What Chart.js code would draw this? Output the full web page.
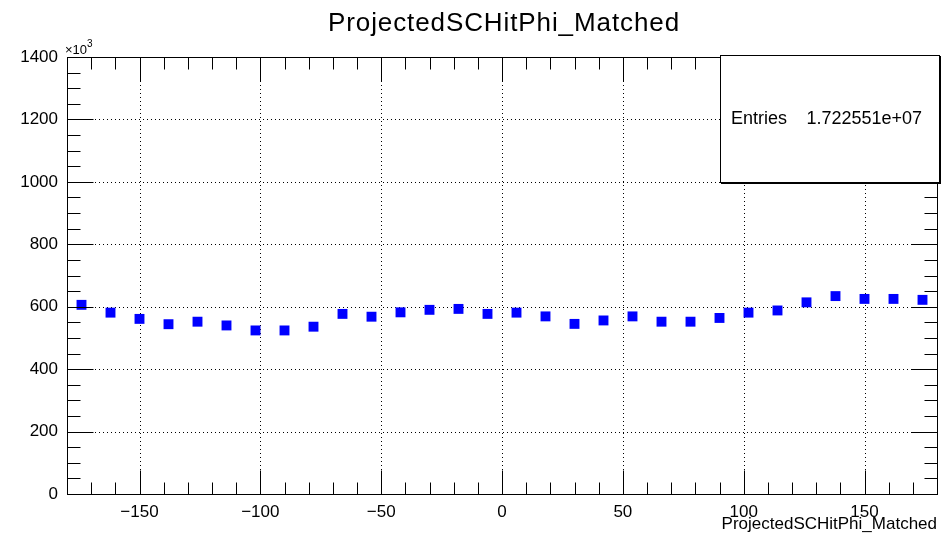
<!DOCTYPE html>
<html>
<head>
<meta charset="utf-8">
<script src="https://cdn.jsdelivr.net/npm/chart.js@4"></script>
<style>
  body { margin: 0; background: #fff; }
  #wrap { width: 944px; height: 536px; }
</style>
</head>
<body>
<div id="wrap"><canvas id="phiChart" width="944" height="536"></canvas></div>
<script>
// bin centres (deg), 30 bins of 12 deg
let binCenters = [-174, -162, -150, -138, -126, -114, -102, -90, -78, -66,
                  -54, -42, -30, -18, -6, 6, 18, 30, 42, 54,
                  66, 78, 90, 102, 114, 126, 138, 150, 162, 174];
// counts in units of 10^3
let counts = [606, 581, 561, 544, 552, 540, 524, 524, 536, 577,
              568, 582, 590, 593, 577, 581, 569, 545, 556, 569,
              552, 552, 564, 581, 588, 614, 634, 625, 625, 622];
let xTicks = [-150, -100, -50, 0, 50, 100, 150];
let yTicks = [0, 200, 400, 600, 800, 1000, 1200, 1400];
let histTitle = "ProjectedSCHitPhi_Matched";
let entriesText = "1.722551e+07";

const FONT = "'Liberation Sans', Arial, sans-serif";

// frame, dotted grid, inward ticks, title, stats box
const rootStyle = {
  id: "rootStyle",
  beforeDatasetsDraw(chart) {
    const ctx = chart.ctx;
    const a = chart.chartArea;
    const xs = chart.scales.x, ys = chart.scales.y;
    ctx.save();
    ctx.strokeStyle = "#000";
    ctx.lineWidth = 1;
    ctx.setLineDash([1, 3]);
    xTicks.forEach(v => {
      const px = Math.round(xs.getPixelForValue(v)) + 0.5;
      ctx.beginPath(); ctx.moveTo(px, a.top); ctx.lineTo(px, a.bottom); ctx.stroke();
    });
    yTicks.forEach(v => {
      if (v === 0 || v === 1400) return;
      const py = Math.round(ys.getPixelForValue(v)) + 0.5;
      ctx.beginPath(); ctx.moveTo(a.left, py); ctx.lineTo(a.right, py); ctx.stroke();
    });
    ctx.restore();
  },
  afterDraw(chart) {
    const ctx = chart.ctx;
    const a = chart.chartArea;
    const xs = chart.scales.x, ys = chart.scales.y;
    ctx.save();
    ctx.strokeStyle = "#000";
    ctx.lineWidth = 1;
    ctx.setLineDash([]);
    const L = Math.round(a.left) + 0.5, R = Math.round(a.right) + 0.5;
    const T = Math.round(a.top) + 0.5, B = Math.round(a.bottom) + 0.5;
    ctx.strokeRect(L, T, R - L, B - T);

    // x ticks: major 50, minor 10
    for (let v = -170; v <= 170; v += 10) {
      const px = Math.round(xs.getPixelForValue(v)) + 0.5;
      const len = v % 50 === 0 ? 24 : 12;
      ctx.beginPath();
      ctx.moveTo(px, B); ctx.lineTo(px, B - len);
      ctx.moveTo(px, T); ctx.lineTo(px, T + len);
      ctx.stroke();
    }
    // y ticks: major 200, minor 50
    for (let v = 50; v < 1400; v += 50) {
      const py = Math.round(ys.getPixelForValue(v)) + 0.5;
      const len = v % 200 === 0 ? 26 : 13;
      ctx.beginPath();
      ctx.moveTo(L, py); ctx.lineTo(L + len, py);
      ctx.moveTo(R, py); ctx.lineTo(R - len, py);
      ctx.stroke();
    }

    // title
    ctx.fillStyle = "#000";
    ctx.font = "26px " + FONT;
    ctx.letterSpacing = "0.9px";
    ctx.textAlign = "center";
    ctx.textBaseline = "alphabetic";
    ctx.fillText(histTitle, 504, 31);
    ctx.letterSpacing = "0px";

    // x axis title
    ctx.font = "17px " + FONT;
    ctx.textAlign = "right";
    ctx.fillText(histTitle, 937, 529);

    // x10^3 exponent
    ctx.font = "13px " + FONT;
    ctx.textAlign = "left";
    ctx.fillText("\u00d710", 65, 54);
    ctx.font = "10px " + FONT;
    ctx.fillText("3", 87, 47);

    // stats box with shadow
    ctx.fillStyle = "#000";
    ctx.fillRect(721, 56, 220, 128);
    ctx.fillStyle = "#fff";
    ctx.fillRect(720, 55, 220, 128);
    ctx.strokeRect(720.5, 55.5, 219, 127);
    ctx.fillStyle = "#000";
    ctx.font = "18px " + FONT;
    ctx.textBaseline = "middle";
    ctx.textAlign = "left";
    ctx.fillText("Entries", 731, 119);
    ctx.textAlign = "right";
    ctx.fillText(entriesText, 922, 119);
    ctx.restore();
  }
};

new Chart("phiChart", {
  type: "scatter",
  data: {
    datasets: [{
      data: binCenters.map((x, i) => ({x: x, y: counts[i]})),
      backgroundColor: "#0000ff",
      borderWidth: 0,
      pointStyle: "rect",
      pointRadius: 7,
      pointHoverRadius: 7
    }]
  },
  options: {
    responsive: false,
    animation: false,
    events: [],
    layout: {padding: {left: 0, right: 4, top: 57, bottom: 0}},
    plugins: {legend: {display: false}, title: {display: false}, tooltip: {enabled: false}},
    scales: {
      x: {
        type: "linear",
        min: -180,
        max: 180,
        grid: {display: false, drawTicks: false},
        border: {display: false},
        afterBuildTicks: s => { s.ticks = xTicks.map(v => ({value: v})); },
        afterFit: s => { s.height = 42; },
        ticks: {
          color: "#000",
          padding: 8,
          maxRotation: 0,
          font: {family: FONT, size: 17},
          callback: v => String(v).replace("-", "\u2212")
        }
      },
      y: {
        min: 0,
        max: 1400,
        grid: {display: false, drawTicks: false},
        border: {display: false},
        afterBuildTicks: s => { s.ticks = yTicks.map(v => ({value: v})); },
        afterFit: s => { s.width = 67; },
        ticks: {
          color: "#000",
          padding: 9,
          font: {family: FONT, size: 17},
          callback: v => String(v)
        }
      }
    }
  },
  plugins: [rootStyle]
});
</script>
</body>
</html>
